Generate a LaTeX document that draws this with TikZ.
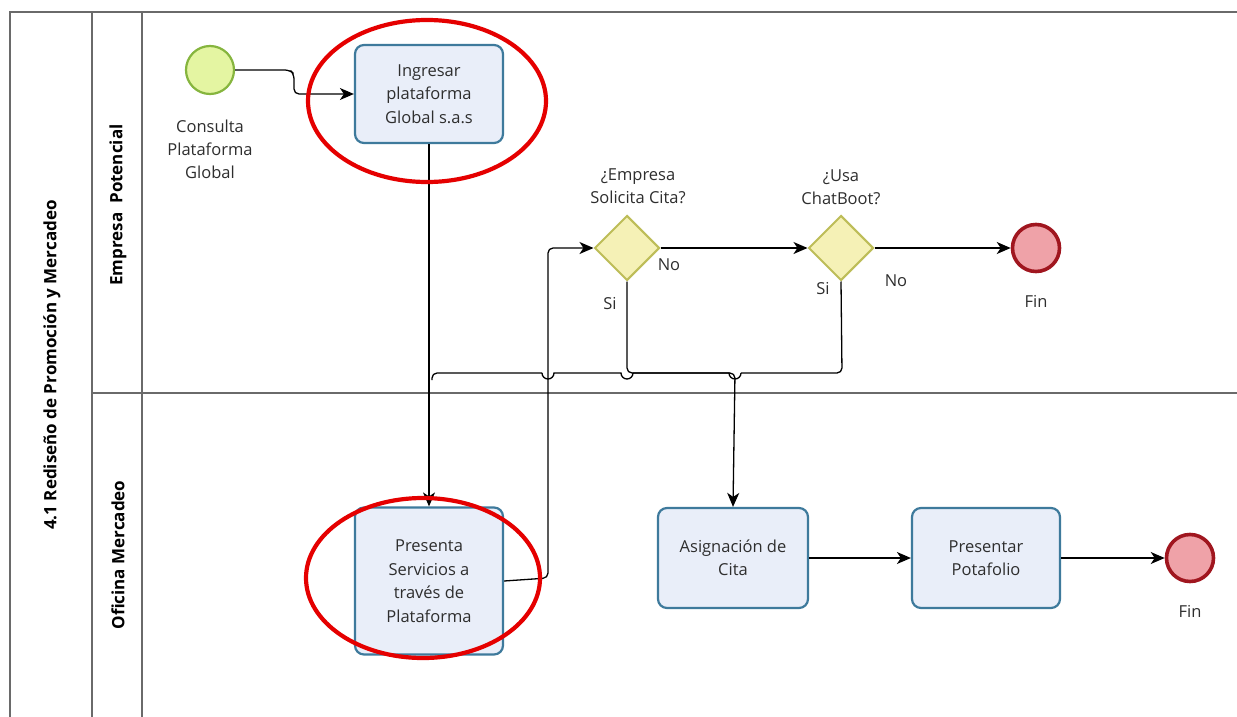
\documentclass[tikz,border=0pt]{standalone}
\usepackage{fontspec}
\setmainfont{Open Sans}
\usetikzlibrary{shapes.geometric,arrows.meta}
\definecolor{lanegray}{HTML}{6A6A6A}
\definecolor{taskedge}{HTML}{3E7A9C}
\definecolor{taskfill}{HTML}{E9EEF9}
\definecolor{startedge}{HTML}{86B53E}
\definecolor{startfill}{HTML}{E4F5A2}
\definecolor{endedge}{HTML}{A0161F}
\definecolor{endfill}{HTML}{EFA2A8}
\definecolor{gateedge}{HTML}{BDBD58}
\definecolor{gatefill}{HTML}{F5F1B6}
\definecolor{marker}{HTML}{E50000}
\definecolor{txt}{HTML}{2E2E2E}
\tikzset{
  lane/.style={draw=lanegray,line width=1.4pt},
  task/.style={rectangle,rounded corners=9pt,draw=taskedge,line width=2.2pt,fill=taskfill,
    minimum width=148pt,minimum height=98pt,align=center,font=\fontsize{16.5}{23.5}\selectfont,
    text=txt,inner sep=0pt},
  startev/.style={circle,draw=startedge,line width=2.2pt,fill=startfill,minimum size=48pt,inner sep=0pt},
  endev/.style={circle,draw=endedge,line width=3.6pt,fill=endfill,minimum size=47pt,inner sep=0pt},
  gate/.style={diamond,draw=gateedge,line width=2pt,fill=gatefill,minimum width=65pt,
    minimum height=65pt,inner sep=0pt},
  lbl/.style={align=center,font=\fontsize{16.5}{23}\selectfont,text=txt,inner sep=0pt},
  flow/.style={line width=1.3pt,rounded corners=5pt,-{Stealth[length=14pt,width=12pt,inset=4pt]}},
  plain/.style={line width=1.3pt,rounded corners=5pt},
  hl/.style={draw=marker,line width=4.2pt},
  lanetitle/.style={rotate=90,font=\bfseries\fontsize{17}{20}\selectfont,inner sep=0pt}
}
\begin{document}
\begin{tikzpicture}[x=1pt,y=-1pt]
\useasboundingbox (0,0) rectangle (1237,717);
\fill[white] (0,0) rectangle (1237,717);

% pool and lanes
\draw[lane] (10,717) -- (10,12) -- (1237,12);
\draw[lane] (92,12) -- (92,717);
\draw[lane] (142,12) -- (142,717);
\draw[lane] (92,393) -- (1237,393);
\node[lanetitle] (pool) at (52,365) {4.1 Rediseño de Promoción y Mercadeo};
\node[lanetitle] (laneA) at (118,205) {Empresa\ \ Potencial};
\node[lanetitle] (laneB) at (118,555) {Oficina Mercadeo};

% events, tasks and gateways
\node[startev] (start) at (210,70) {};
\node[lbl] (startlbl) at (210,149) {Consulta\\Plataforma\\Global};
\node[task] (ingresar) at (429,94) {Ingresar\\plataforma\\Global s.a.s};
\node[task,minimum height=147pt] (presenta) at (429,581) {Presenta\\Servicios a\\través de\\Plataforma};
\node[gate] (g1) at (627,248) {};
\node[lbl] (g1lbl) at (638,186) {¿Empresa\\Solicita Cita?};
\node[gate] (g2) at (841,248) {};
\node[lbl] (g2lbl) at (841,187) {¿Usa\\ChatBoot?};
\node[endev] (fin1) at (1036,248) {};
\node[lbl] (fin1lbl) at (1036,301) {Fin};
\node[task,minimum width=150pt,minimum height=100pt] (asigna) at (733,558) {Asignación de\\Cita};
\node[task,minimum width=148pt,minimum height=100pt] (portafolio) at (986,558) {Presentar\\Potafolio};
\node[endev] (fin2) at (1190,558) {};
\node[lbl] (fin2lbl) at (1190,611) {Fin};

% gateway branch labels
\node[lbl] (g1no) at (669,265) {No};
\node[lbl] (g1si) at (610,304) {Si};
\node[lbl] (g2no) at (896,281) {No};
\node[lbl] (g2si) at (823,289) {Si};

% sequence flows
\draw[flow] (start.east) -- (290,70) -- (294,74) -- (294,94) -- (ingresar.west);
\draw[flow,rounded corners=0pt] (ingresar.south) -- (presenta.north);
\draw[flow] (presenta.east) -- (548,578) -- (548,248) -- (g1.west);
\draw[flow] (g1.east) -- (g2.west);
\draw[flow] (g2.east) -- (fin1.west);
\draw[flow] (g1.south) -- (627,373) -- (735,373) -- (asigna.north);
\draw[plain] (g2.south) -- (842,373) -- (741,373);
\draw[line width=1.3pt] (741,373) arc[start angle=0,end angle=180,radius=6]
  -- (633,373) arc[start angle=0,end angle=180,radius=6]
  -- (554,373) arc[start angle=0,end angle=180,radius=6];
\draw[plain] (542,373) -- (432,373) -- (432,380);
\draw[flow] (asigna.east) -- (portafolio.west);
\draw[flow] (portafolio.east) -- (fin2.west);

% highlight rings
\draw[hl] (427,101) ellipse[x radius=119pt,y radius=81pt];
\draw[hl] (423,578) ellipse[x radius=117pt,y radius=80pt];
\end{tikzpicture}
\end{document}
